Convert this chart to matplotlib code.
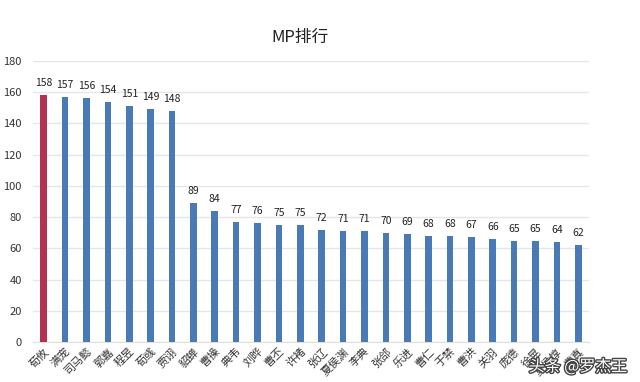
import matplotlib
matplotlib.use("Agg")
import matplotlib.pyplot as plt
import matplotlib.patheffects as pe

plt.rcParams['font.family'] = ['Noto Sans CJK SC', 'DejaVu Sans']

names = ["荀攸", "满宠", "司马懿", "郭嘉", "程昱", "荀彧", "贾诩", "貂蝉", "曹操", "典韦",
         "刘晔", "曹丕", "许褚", "张辽", "夏侯渊", "李典", "张郃", "乐进", "曹仁", "于禁",
         "曹洪", "关羽", "庞德", "徐晃", "夏侯惇", "曹真"]
mp = [158, 157, 156, 154, 151, 149, 148, 89, 84, 77,
      76, 75, 75, 72, 71, 71, 70, 69, 68, 68,
      67, 66, 65, 65, 64, 62]
yticks = [0, 20, 40, 60, 80, 100, 120, 140, 160, 180]
title = "MP排行"

fig = plt.figure(figsize=(6.4, 3.82), dpi=100)
ax = fig.add_axes([33/640, 40/382, 556/640, 281/382])

colors = ["#B3324F"] + ["#4A7AB5"] * (len(mp) - 1)
x = list(range(len(mp)))
ax.bar(x, mp, width=0.31, color=colors, zorder=3)
for xi, v in zip(x, mp):
    ax.text(xi, v + 4.5, str(v), ha="center", va="bottom", fontsize=7.5, color="#222222")

ax.set_xlim(-0.5, len(mp) - 0.5)
ax.set_ylim(0, 180)
ax.set_yticks(yticks)
ax.set_yticklabels([str(t) for t in yticks], fontsize=8, color="#333333")
ax.tick_params(axis="y", length=0, pad=8)
ax.tick_params(axis="x", length=0, pad=3)
ax.set_xticks(x)
ax.set_xticklabels(names, rotation=45, ha="right", va="top", fontsize=8,
                   color="#333333", rotation_mode="anchor")
ax.grid(axis="y", color="#E6E6E6", linewidth=1, zorder=0)
for s in ["top", "right", "left"]:
    ax.spines[s].set_visible(False)
ax.spines["bottom"].set_color("#E0E0E0")

fig.text(300/640, 1 - 37/382, title, ha="center", va="center", fontsize=12, color="#222222")

fig.text(578/640, 1 - 367/382, "头条 @罗杰王", ha="center", va="center", fontsize=11.5,
         color="white", path_effects=[pe.withStroke(linewidth=2, foreground="#444444")])

fig.savefig("out.png", dpi=100, facecolor="white")
